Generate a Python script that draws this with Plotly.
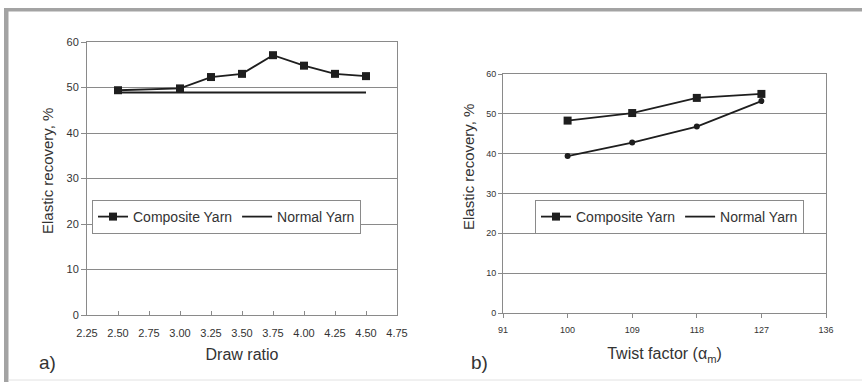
import plotly.graph_objects as go

# Panel a) data
draw_ratio = [2.50, 3.00, 3.25, 3.50, 3.75, 4.00, 4.25, 4.50]
composite_a = [49.4, 49.8, 52.3, 53.0, 57.1, 54.8, 53.0, 52.5]
normal_a = [48.9, 48.9, 48.9, 48.9, 48.9, 48.9, 48.9, 48.9]

# Panel b) data
twist_factor = [100, 109, 118, 127]
composite_b = [48.3, 50.2, 54.0, 55.0]
normal_b = [39.4, 42.8, 46.8, 53.2]

W, H = 862, 382
def px(x): return x / W
def py(y): return (H - y) / H

LINE = "#1e1e1e"
TXT = "#333333"
GRID = "#8a8a8a"
FONT = "Liberation Sans, Arial, sans-serif"

fig = go.Figure()

# Panel a
fig.add_trace(go.Scatter(x=draw_ratio, y=composite_a, mode="lines+markers", name="Composite Yarn",
                         line=dict(color=LINE, width=1.8), marker=dict(symbol="square", size=8, color=LINE),
                         xaxis="x", yaxis="y", legend="legend"))
fig.add_trace(go.Scatter(x=draw_ratio, y=normal_a, mode="lines", name="Normal Yarn",
                         line=dict(color=LINE, width=1.8), xaxis="x", yaxis="y", legend="legend"))

# Panel b
fig.add_trace(go.Scatter(x=twist_factor, y=composite_b, mode="lines+markers", name="Composite Yarn",
                         line=dict(color=LINE, width=1.8), marker=dict(symbol="square", size=8, color=LINE),
                         xaxis="x2", yaxis="y2", legend="legend2"))
fig.add_trace(go.Scatter(x=twist_factor, y=normal_b, mode="lines+markers", name="Normal Yarn",
                         line=dict(color=LINE, width=1.8), marker=dict(symbol="circle", size=6, color=LINE),
                         xaxis="x2", yaxis="y2", legend="legend2", showlegend=False))
fig.add_trace(go.Scatter(x=[None], y=[None], mode="lines", name="Normal Yarn",
                         line=dict(color=LINE, width=1.8), xaxis="x2", yaxis="y2", legend="legend2"))

axis_common = dict(showline=True, linecolor=GRID, linewidth=1, mirror=True, zeroline=False,
                   tickcolor=GRID, automargin=False)

fig.update_layout(
    width=W, height=H, autosize=False,
    margin=dict(l=0, r=0, t=0, b=0, autoexpand=False),
    paper_bgcolor="white", plot_bgcolor="white",
    font=dict(family=FONT, color=TXT),
    xaxis=dict(domain=[px(87), px(397)], range=[2.25, 4.75], tick0=2.25, dtick=0.25, tickformat=".2f",
               ticks="inside", ticklen=4, showgrid=False, anchor="y", ticklabelstandoff=8,
               tickfont=dict(size=11, family=FONT, color=TXT),
               title=dict(text="Draw ratio", font=dict(size=16, family=FONT, color=TXT), standoff=10),
               **axis_common),
    yaxis=dict(domain=[py(315), py(42)], range=[0, 60], dtick=10, ticks="outside", ticklen=5,
               showgrid=True, gridcolor=GRID, gridwidth=1, anchor="x",
               tickfont=dict(size=11, family=FONT, color=TXT), **axis_common),
    xaxis2=dict(domain=[px(503), px(826)], range=[91, 136], tick0=91, dtick=9,
                ticks="outside", ticklen=4, showgrid=False, anchor="y2", ticklabelstandoff=4,
                tickfont=dict(size=9, family=FONT, color=TXT),
                title=dict(text="Twist factor (α<sub>m</sub>)", font=dict(size=16, family=FONT, color=TXT), standoff=14),
                **axis_common),
    yaxis2=dict(domain=[py(313), py(74)], range=[0, 60], dtick=10, ticks="outside", ticklen=4,
                showgrid=True, gridcolor=GRID, gridwidth=1, anchor="x2",
                tickfont=dict(size=9, family=FONT, color=TXT), **axis_common),
    legend=dict(orientation="h", x=px(92), y=py(200), xanchor="left", yanchor="top",
                bgcolor="white", bordercolor=GRID, borderwidth=1,
                font=dict(size=14, family=FONT, color=TXT), itemwidth=30),
    legend2=dict(orientation="h", x=px(535), y=py(200), xanchor="left", yanchor="top",
                 bgcolor="white", bordercolor=GRID, borderwidth=1,
                 font=dict(size=14, family=FONT, color=TXT), itemwidth=30),
    showlegend=True,
)

# Y-axis titles and panel labels as annotations
fig.add_annotation(text="Elastic recovery, %", x=px(48), y=py(171), xref="paper", yref="paper",
                   xanchor="center", yanchor="middle",
                   textangle=-90, showarrow=False, font=dict(size=15, family=FONT, color=TXT))
fig.add_annotation(text="Elastic recovery, %", x=px(468), y=py(167), xref="paper", yref="paper",
                   xanchor="center", yanchor="middle",
                   textangle=-90, showarrow=False, font=dict(size=15, family=FONT, color=TXT))
fig.add_annotation(text="a)", x=px(47), y=py(362), xref="paper", yref="paper",
                   xanchor="center", yanchor="middle",
                   showarrow=False, font=dict(size=19, family=FONT, color=TXT))
fig.add_annotation(text="b)", x=px(479), y=py(362), xref="paper", yref="paper",
                   xanchor="center", yanchor="middle",
                   showarrow=False, font=dict(size=19, family=FONT, color=TXT))

# Frame bands
fig.add_shape(type="rect", xref="paper", yref="paper", x0=px(4), x1=1, y0=py(11.5), y1=py(8),
              fillcolor="#a3a3a3", line_width=0, layer="below")
fig.add_shape(type="rect", xref="paper", yref="paper", x0=px(4), x1=px(8.5), y0=0, y1=py(8),
              fillcolor="#a3a3a3", line_width=0, layer="below")
fig.add_shape(type="line", xref="paper", yref="paper", x0=px(8.5), x1=1, y0=py(380), y1=py(380),
              line=dict(color="#e2e2e2", width=1), layer="below")

fig.write_html("out.html", config={"displayModeBar": False},
               post_script="document.body.style.margin='0';document.body.style.overflow='hidden';")
